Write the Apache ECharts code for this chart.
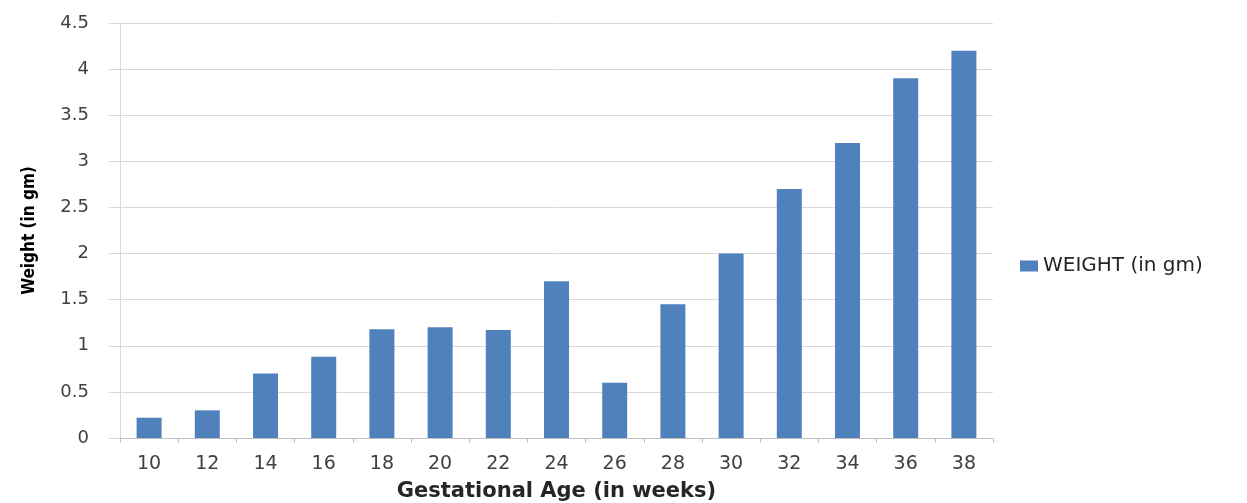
<!DOCTYPE html>
<html>
<head>
<meta charset="utf-8">
<script src="https://cdn.jsdelivr.net/npm/echarts@6/dist/echarts.min.js"></script>
<style>html,body{margin:0;padding:0;background:#fff;}#c{width:1247px;height:503px;}</style>
</head>
<body>
<div id="c"></div>
<script>
const categories = ['10','12','14','16','18','20','22','24','26','28','30','32','34','36','38'];
const weights = [0.22, 0.30, 0.70, 0.88, 1.18, 1.20, 1.17, 1.70, 0.60, 1.45, 2.00, 2.70, 3.20, 3.90, 4.20];
const seriesName = 'WEIGHT (in gm)';
const xTitle = 'Gestational Age (in weeks)';
const yTitle = 'Weight (in gm)';

const chart = echarts.init(document.getElementById('c'), null, {renderer: 'canvas'});
chart.setOption({
  animation: false,
  backgroundColor: '#ffffff',
  grid: {left: 120, right: 254, top: 23, bottom: 65, containLabel: false, outerBoundsMode: 'none'},
  legend: {
    data: [seriesName],
    orient: 'vertical',
    left: 1015,
    top: 251,
    itemWidth: 18,
    itemHeight: 11,
    itemGap: 8,
    icon: 'rect',
    textStyle: {fontFamily: 'DejaVu Sans', fontSize: 20, color: '#262626'}
  },
  xAxis: {
    type: 'category',
    data: categories,
    boundaryGap: true,
    name: xTitle,
    nameLocation: 'middle',
    nameGap: 43,
    nameTextStyle: {fontFamily: 'DejaVu Sans', fontWeight: 'bold', fontSize: 21, color: '#262626'},
    axisLine: {lineStyle: {color: '#bfbfbf', width: 1}},
    axisTick: {show: true, alignWithLabel: false, length: 5, lineStyle: {color: '#bfbfbf'}},
    axisLabel: {fontFamily: 'DejaVu Sans', fontSize: 19, color: '#404040', margin: 17}
  },
  yAxis: {
    type: 'value',
    min: 0,
    max: 4.5,
    interval: 0.5,
    name: yTitle,
    nameLocation: 'middle',
    nameGap: 82,
    nameRotate: 90,
    nameTextStyle: {fontFamily: 'DejaVu Sans Condensed, Liberation Sans Narrow, sans-serif', fontWeight: 'bold', fontSize: 17, color: '#000000'},
    axisLine: {show: true, lineStyle: {color: '#d9d9d9', width: 1}},
    axisTick: {show: true, length: 11, lineStyle: {color: '#d9d9d9'}},
    axisLabel: {fontFamily: 'DejaVu Sans', fontSize: 18, color: '#404040', margin: 31,
      formatter: v => String(Math.round(v * 10) / 10)},
    splitLine: {show: true, lineStyle: {color: '#d9d9d9', width: 1}}
  },
  series: [{
    name: seriesName,
    type: 'bar',
    data: weights,
    barWidth: 25,
    itemStyle: {color: '#4f81bd'}
  }]
});
</script>
</body>
</html>
